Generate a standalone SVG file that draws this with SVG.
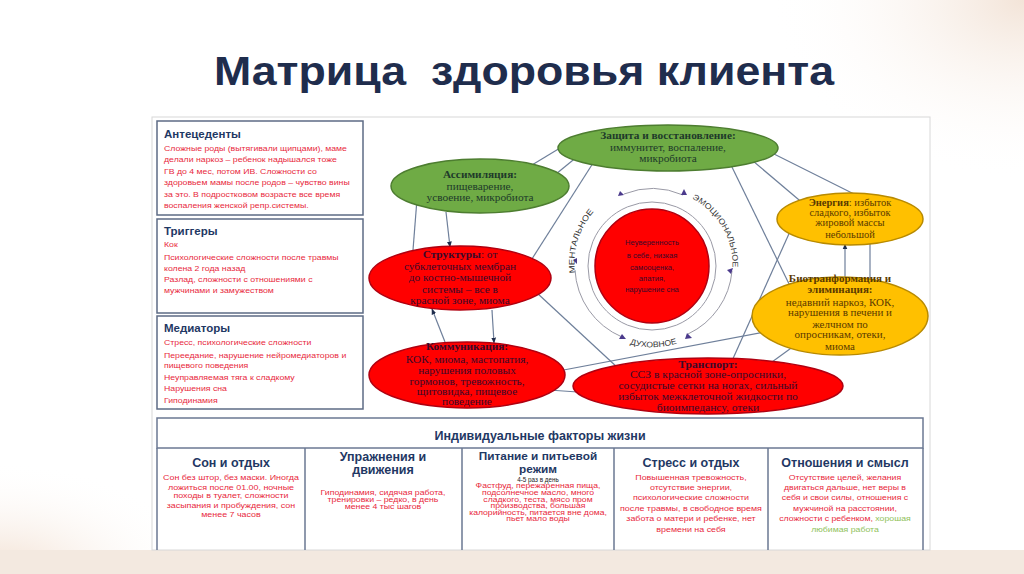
<svg xmlns="http://www.w3.org/2000/svg" width="1024" height="574" viewBox="0 0 1024 574">
<defs>
<radialGradient id="bgTR" cx="1" cy="0" r="0.6"><stop offset="0" stop-color="#f3e4d8"/><stop offset="1" stop-color="#ffffff" stop-opacity="0"/></radialGradient>
<radialGradient id="bgBL" cx="0" cy="1" r="0.5"><stop offset="0" stop-color="#f2dfd0"/><stop offset="1" stop-color="#ffffff" stop-opacity="0"/></radialGradient>
<marker id="ah" viewBox="0 0 10 10" refX="9" refY="5" markerWidth="5" markerHeight="5" orient="auto-start-reverse"><path d="M0,1 L10,5 L0,9 z" fill="#1f2d4d"/></marker>
<path id="ringMent" d="M575.5,275 A78,78 0 0 1 687,193"/>
<path id="ringEmo" d="M681,194 A75,75 0 0 1 732,275"/>
<path id="ringDuh" d="M595,325 A84,84 0 0 0 709,325"/>
</defs>
<style>
.slide{fill:#ffffff}
.box{fill:#ffffff;stroke:#5d6b85;stroke-width:1.5}
.cell{fill:#ffffff;stroke:#6b7893;stroke-width:1.5}
.bt{font-family:"Liberation Sans",Arial,sans-serif;font-weight:bold;fill:#1f3864}
.rt{font-family:"Liberation Sans",Arial,sans-serif;fill:#e8283c}
.gt{font-family:"Liberation Sans",Arial,sans-serif;fill:#8fbf5a}
.kt{font-family:"Liberation Sans",Arial,sans-serif;fill:#222}
.eg{fill:#6fab45;stroke:#4d7d30;stroke-width:1.5}
.er{fill:#ff0000;stroke:#b00010;stroke-width:1.5}
.ey{fill:#ffc000;stroke:#b88a00;stroke-width:1.5}
.et{font-family:"Liberation Serif","Times New Roman",serif;font-size:10.5px;text-anchor:middle}
.tg{fill:#1e3a2a}
.tr{fill:#3a0a2a}
.ty{fill:#5a3a00}
.b{font-weight:bold}
.con path{fill:none;stroke:#6e7f9a;stroke-width:1.2;marker-end:url(#ah)}
.ring{fill:none;stroke:#9a9aa6;stroke-width:1}
.rl{font-family:"Liberation Sans",Arial,sans-serif;font-size:8px;fill:#333}
.tri{fill:#4b3a8c}
</style>
<rect class="slide" x="0" y="0" width="1024" height="574"/>
<rect x="600" y="0" width="424" height="300" fill="url(#bgTR)"/>
<rect x="0" y="350" width="400" height="224" fill="url(#bgBL)"/>
<rect x="0" y="550" width="1024" height="24" fill="#f3e9e0"/>

<text x="524" y="85" text-anchor="middle" font-family="'Liberation Sans',Arial,sans-serif" font-weight="bold" font-size="40" fill="#1f2d4d" textLength="620" lengthAdjust="spacingAndGlyphs" xml:space="preserve">Матрица  здоровья клиента</text>

<rect x="152" y="117" width="778" height="433" fill="#ffffff" stroke="#d8d8d8" stroke-width="1"/>

<!-- left boxes -->
<g id="antecedents">
<rect class="box" x="157" y="121" width="206" height="94"/>
<text class="bt" x="164" y="138" font-size="11.5">Антецеденты</text>
<g class="rt" font-size="7.6" transform="translate(164,0) scale(1.15,1) translate(-164,0)">
<text x="164" y="151">Сложные роды (вытягивали щипцами),  маме</text>
<text x="164" y="162.5">делали наркоз – ребенок надышался тоже</text>
<text x="164" y="174">ГВ до 4 мес, потом ИВ. Сложности со</text>
<text x="164" y="185.5">здоровьем мамы после родов – чувство вины</text>
<text x="164" y="197">за это. В подростковом возрасте все время</text>
<text x="164" y="208.5">воспаления женской репр.системы.</text>
</g>
</g>
<g id="triggers">
<rect class="box" x="157" y="219" width="206" height="94"/>
<text class="bt" x="164" y="235" font-size="11.5">Триггеры</text>
<g class="rt" font-size="7.6" transform="translate(164,0) scale(1.15,1) translate(-164,0)">
<text x="164" y="247">Кок</text>
<text x="164" y="260">Психологические сложности после травмы</text>
<text x="164" y="271">колена 2 года назад</text>
<text x="164" y="282">Разлад, сложности с отношениями с</text>
<text x="164" y="293.5">мужчинами и замужеством</text>
</g>
</g>
<g id="mediators">
<rect class="box" x="157" y="316" width="206" height="93"/>
<text class="bt" x="164" y="332" font-size="11.5">Медиаторы</text>
<g class="rt" font-size="7.6" transform="translate(164,0) scale(1.15,1) translate(-164,0)">
<text x="164" y="345">Стресс, психологические сложности</text>
<text x="164" y="358">Переедание,  нарушение нейромедиаторов и</text>
<text x="164" y="368">пищевого поведения</text>
<text x="164" y="380">Неуправляемая тяга к сладкому</text>
<text x="164" y="391">Нарушения сна</text>
<text x="164" y="403">Гиподинамия</text>
</g>
</g>

<!-- center rings -->
<g id="center">
<circle class="ring" cx="652" cy="266" r="64"/>
<path class="ring" d="M624,194 A77,77 0 0 1 683,195"/>
<path class="ring" d="M732,271 A77,77 0 0 1 688,334"/>
<path class="ring" d="M622,337 A77,77 0 0 1 575,270"/>
<polygon class="tri" points="620,191 624,195 618,196"/>
<polygon class="tri" points="684,189 687,195 681,195"/>
<polygon class="tri" points="727,270 733,268 731,274"/>
<polygon class="tri" points="687,333 692,338 685,339"/>
<polygon class="tri" points="622,334 626,339 619,339"/>
<polygon class="tri" points="573,260 577,258 577,264"/>
<text class="rl"><textPath href="#ringMent" startOffset="2" textLength="66" lengthAdjust="spacingAndGlyphs">МЕНТАЛЬНОЕ</textPath></text>
<text class="rl"><textPath href="#ringEmo" startOffset="12" textLength="84" lengthAdjust="spacingAndGlyphs">ЭМОЦИОНАЛЬНОЕ</textPath></text>
<text class="rl"><textPath href="#ringDuh" startOffset="40" textLength="48" lengthAdjust="spacingAndGlyphs">ДУХОВНОЕ</textPath></text>
<circle class="er" cx="652" cy="266" r="57"/>
<g font-family="'Liberation Sans',Arial,sans-serif" font-size="7.6" fill="#3a0a2a" text-anchor="middle">
<text x="652" y="245">Неуверенность</text>
<text x="652" y="258">в себе, низкая</text>
<text x="652" y="270">самооценка,</text>
<text x="652" y="281">апатия,</text>
<text x="652" y="292">нарушение сна</text>
</g>
</g>

<!-- connectors -->
<g class="con" id="connectors">
<path d="M565,145 L527,168"/>
<path d="M545,183 L578,156"/>
<path d="M530,262 L595,160"/>
<path d="M446,212 L450,247"/>
<path d="M413,250 L417,199"/>
<path d="M445,342 L432,309"/>
<path d="M492,310 L494,343"/>
<path d="M618,368 L523,280"/>
<path d="M802,325 L553,372" style="marker-start:url(#ah)"/>
<path d="M592,393 L520,388" style="marker-start:url(#ah)"/>
<path d="M727,372 L792,227"/>
<path d="M757,373 L805,338"/>
<path d="M730,163 L792,290"/>
<path d="M753,161 L805,205"/>
<path d="M860,197 L768,151"/>
<path d="M845,290 L845,244"/>
<path d="M870,244 L870,290"/>
</g>

<!-- ellipses -->
<g id="zashchita">
<ellipse class="eg" cx="668" cy="148" rx="110" ry="23"/>
<g class="et tg" transform="translate(668,0) scale(1.08,1) translate(-668,0)"><text x="668" y="139" class="b">Защита и восстановление:</text><text x="668" y="151">иммунитет, воспаление,</text><text x="668" y="162">микробиота</text></g>
</g>
<g id="assimilyatsiya">
<ellipse class="eg" cx="480" cy="186" rx="89" ry="27"/>
<g class="et tg" transform="translate(480,0) scale(1.08,1) translate(-480,0)"><text x="480" y="178" class="b">Ассимиляция:</text><text x="480" y="190">пищеварение,</text><text x="480" y="201">усвоение, микробиота</text></g>
</g>
<g id="struktury">
<ellipse class="er" cx="460" cy="278" rx="91" ry="32"/>
<g class="et tr" transform="translate(460,0) scale(1.08,1) translate(-460,0)"><text x="460" y="258"><tspan class="b">Структуры</tspan>: от</text><text x="460" y="270">субклеточных мембран</text><text x="460" y="281">до костно-мышечной</text><text x="460" y="293">системы – все в</text><text x="460" y="304">красной зоне, миома</text></g>
</g>
<g id="kommunikatsiya">
<ellipse class="er" cx="467" cy="375" rx="98" ry="33"/>
<g class="et tr" transform="translate(467,0) scale(1.08,1) translate(-467,0)"><text x="467" y="350" class="b">Коммуникация:</text><text x="467" y="363">КОК, миома, мастопатия,</text><text x="467" y="374">нарушения половых</text><text x="467" y="385">гормонов, тревожность,</text><text x="467" y="395">щитовидка, пищевое</text><text x="467" y="405">поведение</text></g>
</g>
<g id="transport">
<ellipse class="er" cx="708" cy="386" rx="135" ry="28"/>
<g class="et tr" transform="translate(708,0) scale(1.1,1) translate(-708,0)"><text x="708" y="368" class="b">Транспорт:</text><text x="708" y="378">ССЗ в красной зоне-опросники,</text><text x="708" y="389">сосудистые сетки на ногах, сильный</text><text x="708" y="400">избыток межклеточной жидкости по</text><text x="708" y="411">биоимпедансу, отеки</text></g>
</g>
<g id="energiya">
<ellipse class="ey" cx="850" cy="219" rx="73" ry="26"/>
<g class="et ty"><text x="850" y="206"><tspan class="b">Энергия</tspan>: избыток</text><text x="850" y="216">сладкого, избыток</text><text x="850" y="226">жировой массы</text><text x="850" y="238">небольшой</text></g>
</g>
<g id="biotransformatsiya">
<ellipse class="ey" cx="840" cy="316" rx="88" ry="39"/>
<g class="et ty" transform="translate(840,0) scale(1.05,1) translate(-840,0)"><text x="840" y="282" class="b">Биотранформация и</text><text x="840" y="293" class="b">элиминация:</text><text x="840" y="306">недавний наркоз, КОК,</text><text x="840" y="316">нарушения в печени и</text><text x="840" y="328">желчном по</text><text x="840" y="338">опросникам, отеки,</text><text x="840" y="350">миома</text></g>
</g>

<!-- bottom table -->
<g id="factors">
<rect class="cell" x="157" y="418" width="766" height="30"/>
<text class="bt" x="540" y="440" font-size="12.5" text-anchor="middle">Индивидуальные факторы жизни</text>
<path d="M157,448 V550 M305,448 V550 M462,448 V550 M614,448 V550 M768,448 V550 M923,448 V550" stroke="#6b7893" stroke-width="1.5" fill="none"/>
</g>
<g id="son" text-anchor="middle">
<text class="bt" x="231" y="467" font-size="12.5">Сон и отдых</text>
<g class="rt" font-size="7" transform="translate(231,0) scale(1.27,1) translate(-231,0)"><text x="231" y="480">Сон без штор, без маски. Иногда</text><text x="231" y="490">ложиться после 01.00,  ночные</text><text x="231" y="498.5">походы в туалет, сложности</text><text x="231" y="508">засыпания и пробуждения, сон</text><text x="231" y="517">менее 7 часов</text></g>
</g>
<g id="uprazhneniya" text-anchor="middle">
<text class="bt" x="383" y="461" font-size="12.5">Упражнения и</text>
<text class="bt" x="383" y="474" font-size="12.5">движения</text>
<g class="rt" font-size="7" transform="translate(383,0) scale(1.25,1) translate(-383,0)"><text x="383" y="495">Гиподинамия, сидячая работа,</text><text x="383" y="502">тренировки – редко, в день</text><text x="383" y="509">менее 4 тыс шагов</text></g>
</g>
<g id="pitanie" text-anchor="middle">
<text class="bt" x="538" y="460" font-size="11.8">Питание и питьевой</text>
<text class="bt" x="538" y="473" font-size="11.8">режим</text>
<text class="kt" x="538" y="482" font-size="6.3">4-5 раз в день</text>
<g class="rt" font-size="6.8" transform="translate(538,0) scale(1.27,1) translate(-538,0)"><text x="538" y="488.5">Фастфуд, пережаренная пища,</text><text x="538" y="495">подсолнечное масло, много</text><text x="538" y="502">сладкого, теста, мясо пром</text><text x="538" y="508.5">производства, большая</text><text x="538" y="515">калорийность, питается вне дома,</text><text x="538" y="521.5">пьет мало воды</text></g>
</g>
<g id="stress" text-anchor="middle">
<text class="bt" x="691" y="467" font-size="12.5">Стресс и отдых</text>
<g class="rt" font-size="7" transform="translate(691,0) scale(1.27,1) translate(-691,0)"><text x="691" y="480">Повышенная тревожность,</text><text x="691" y="490">отсутствие энергии,</text><text x="691" y="500">психологические сложности</text><text x="691" y="511">после травмы, в свободное время</text><text x="691" y="521">забота о матери и ребенке, нет</text><text x="691" y="532">времени на себя</text></g>
</g>
<g id="otnosheniya" text-anchor="middle">
<text class="bt" x="845" y="467" font-size="12.5">Отношения и смысл</text>
<g class="rt" font-size="7" transform="translate(845,0) scale(1.25,1) translate(-845,0)"><text x="845" y="480">Отсутствие целей, желания</text><text x="845" y="490">двигаться дальше, нет веры в</text><text x="845" y="500">себя и свои силы, отношения с</text><text x="845" y="511">мужчиной на расстоянии,</text><text x="845" y="521">сложности с ребенком, <tspan class="gt">хорошая</tspan></text><text class="gt" x="845" y="532">любимая работа</text></g>
</g>
</svg>
